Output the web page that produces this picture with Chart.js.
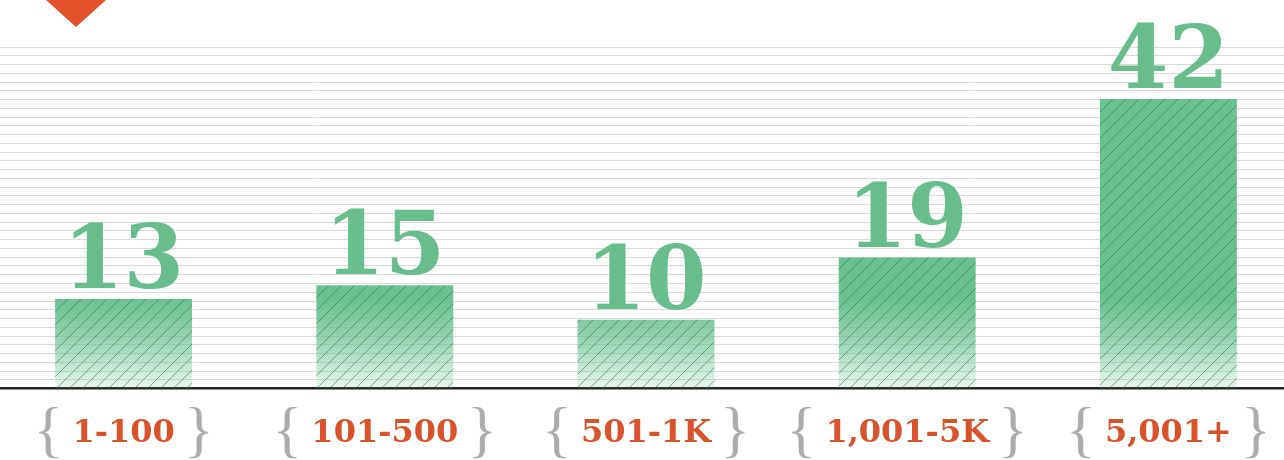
<!DOCTYPE html>
<html lang="en">

<head>
    <meta charset="UTF-8" />
    <title>Bar chart</title>
    <script src="https://cdn.jsdelivr.net/npm/chart.js"></script>
    <style>
        body { margin: 0; background: #fff; overflow: hidden; }
        #wrap { position: relative; width: 1284px; height: 460px; overflow: hidden; }
        #box { position: absolute; left: -10px; top: 0; width: 1312px; height: 479px; }
        #flag {
            position: absolute; left: 46px; top: 0; width: 0; height: 0;
            border-left: 30px solid transparent; border-right: 30px solid transparent;
            border-top: 27px solid #e0532b; z-index: 2;
        }
    </style>
</head>

<body>
    <div id="wrap">
        <div id="flag"></div>
        <div id="box"><canvas id="grafico"></canvas></div>
    </div>

    <script>
        const categorias = ['1-100', '101-500', '501-1K', '1,001-5K', '5,001+'];
        const valores = [13, 15, 10, 19, 42];

        const verde = '#69c190';
        const naranja = '#d8532c';

        // hatch pattern: thin diagonal lines
        function crearRayado() {
            const c = document.createElement('canvas');
            c.width = 13; c.height = 13;
            const g = c.getContext('2d');
            g.strokeStyle = 'rgba(45,105,70,0.55)';
            g.lineWidth = 1;
            g.beginPath();
            g.moveTo(-1, 14); g.lineTo(14, -1);
            g.moveTo(-2, 2); g.lineTo(2, -2);
            g.moveTo(11, 15); g.lineTo(15, 11);
            g.stroke();
            return g.createPattern(c, 'repeat');
        }

        function degradado(context) {
            const chart = context.chart;
            const area = chart.chartArea;
            if (!area) return verde;
            const g = chart.ctx.createLinearGradient(0, area.bottom, 0, area.bottom - 90);
            g.addColorStop(0, 'rgba(105,193,144,0.15)');
            g.addColorStop(0.55, 'rgba(105,193,144,0.7)');
            g.addColorStop(1, 'rgba(105,193,144,1)');
            return g;
        }

        // big numbers above each bar
        const etiquetas = {
            id: 'etiquetas',
            afterDatasetsDraw(chart) {
                const ctx = chart.ctx;
                const meta = chart.getDatasetMeta(1);
                ctx.save();
                ctx.font = 'bold 87px "DejaVu Serif"';
                ctx.fillStyle = '#67be8c';
                ctx.textAlign = 'center';
                ctx.textBaseline = 'alphabetic';
                meta.data.forEach((bar, i) => {
                    ctx.fillText(String(valores[i]), bar.x, bar.y - 11);
                });
                ctx.restore();
            }
        };

        // grey braces around the category labels
        const llaves = {
            id: 'llaves',
            afterDraw(chart) {
                const ctx = chart.ctx;
                const x = chart.scales.x;
                ctx.save();
                ctx.font = 'bold 32px "DejaVu Serif"';
                const anchos = categorias.map(c => ctx.measureText(c).width);
                ctx.font = '62px "Liberation Serif"';
                ctx.fillStyle = '#acacac';
                ctx.textAlign = 'center';
                ctx.textBaseline = 'alphabetic';
                categorias.forEach((c, i) => {
                    const cx = x.getPixelForValue(i);
                    const d = anchos[i] / 2 + 24;
                    ctx.fillText('{', cx - d, 450);
                    ctx.fillText('}', cx + d, 450);
                });
                ctx.restore();
            }
        };

        const ctx = document.getElementById('grafico').getContext('2d');
        new Chart(ctx, {
            type: 'bar',
            data: {
                labels: categorias,
                datasets: [
                    {
                        // hatch on top
                        data: valores,
                        backgroundColor: crearRayado(),
                        borderWidth: 0,
                        grouped: false,
                        categoryPercentage: 1,
                        barPercentage: 0.524
                    },
                    {
                        data: valores,
                        backgroundColor: degradado,
                        borderWidth: 0,
                        grouped: false,
                        categoryPercentage: 1,
                        barPercentage: 0.524
                    }
                ]
            },
            options: {
                responsive: true,
                maintainAspectRatio: false,
                animation: false,
                layout: { padding: { top: 47, left: 3, right: 3, bottom: 0 } },
                plugins: { legend: { display: false }, tooltip: { enabled: false } },
                scales: {
                    y: {
                        min: 0,
                        max: 49.53,
                        ticks: { display: false, stepSize: 1.27 },
                        grid: { color: '#dadada', lineWidth: 1, drawTicks: false },
                        border: { display: false }
                    },
                    x: {
                        grid: { display: false, drawTicks: false },
                        border: { display: true, color: '#222', width: 2.5 },
                        ticks: {
                            color: naranja,
                            padding: 26,
                            maxRotation: 0,
                            autoSkip: false,
                            font: { family: 'DejaVu Serif', weight: 'bold', size: 32 }
                        }
                    }
                }
            },
            plugins: [etiquetas, llaves]
        });
    </script>
</body>

</html>
